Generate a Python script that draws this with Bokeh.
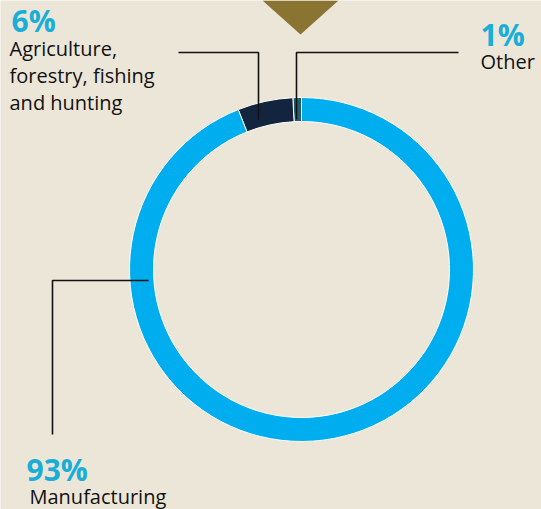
import math
from bokeh.plotting import figure
from bokeh.models import Range1d
from bokeh.core.properties import value
from bokeh.embed import file_html
from bokeh.resources import INLINE

# ---- data ----
categories = ["Other", "Agriculture, forestry, fishing and hunting", "Manufacturing"]
shares = [0.8, 5.2, 94.0]          # slice sizes read from the ring
pct_labels = ["1%", "6%", "93%"]
slice_colors = ["#245D6E", "#13243F", "#00AEEF"]

BG = "#ECE6D8"
W, H = 541, 509

p = figure(width=W, height=H, output_backend="svg", toolbar_location=None,
           x_range=Range1d(0, W), y_range=Range1d(0, H), min_border=0,
           background_fill_color=BG, border_fill_color=BG)
p.axis.visible = False
p.grid.visible = False
p.outline_line_color = None


def Y(py):
    return H - py


# gold triangle at the top
p.patch(x=[262, 338, 300], y=[Y(0), Y(0), Y(34)], fill_color="#8A7431", line_color=None)

# ring
cx, cy = 301, Y(269)
total = sum(shares)
starts, ends = [], []
a = math.pi / 2
for s in shares:
    starts.append(a)
    a += 2 * math.pi * s / total
    ends.append(a)
p.annular_wedge(x=[cx] * 3, y=[cy] * 3, inner_radius=148, outer_radius=172,
                start_angle=starts, end_angle=ends, direction="anticlock",
                fill_color=slice_colors, line_color="white", line_width=1)

# leader lines
lc = "#111111"
p.line(x=[178, 258, 258], y=[Y(52), Y(52), Y(119)], line_color=lc, line_width=1.6)
p.line(x=[458, 296, 296], y=[Y(52), Y(52), Y(119)], line_color=lc, line_width=1.6)
p.line(x=[148, 52, 52], y=[Y(280), Y(280), Y(434)], line_color=lc, line_width=1.6)

pct_color = "#19AED8"
font = value("Open Sans")

# percentages
p.text(x=[11, 480, 26], y=[Y(20), Y(34), Y(469)], text=[pct_labels[1], pct_labels[0], pct_labels[2]],
       text_font=font, text_font_style="bold", text_font_size="30px",
       text_color=pct_color, text_baseline="alphabetic", text_align="left")

# category names
name_lines = ["Agriculture,", "forestry, fishing", "and hunting", "Other", "Manufacturing"]
p.text(x=[9, 9, 9, 480, 29], y=[Y(48), Y(75), Y(102), Y(61), Y(496)], text=name_lines,
       text_font=font, text_font_size="20px", text_color="#111111",
       text_baseline="alphabetic", text_align="left")

html = file_html(p, INLINE)
html = html.replace("<body>", '<body style="margin:0;overflow:hidden;background:%s">' % BG, 1)
open("out.html", "w").write(html)
